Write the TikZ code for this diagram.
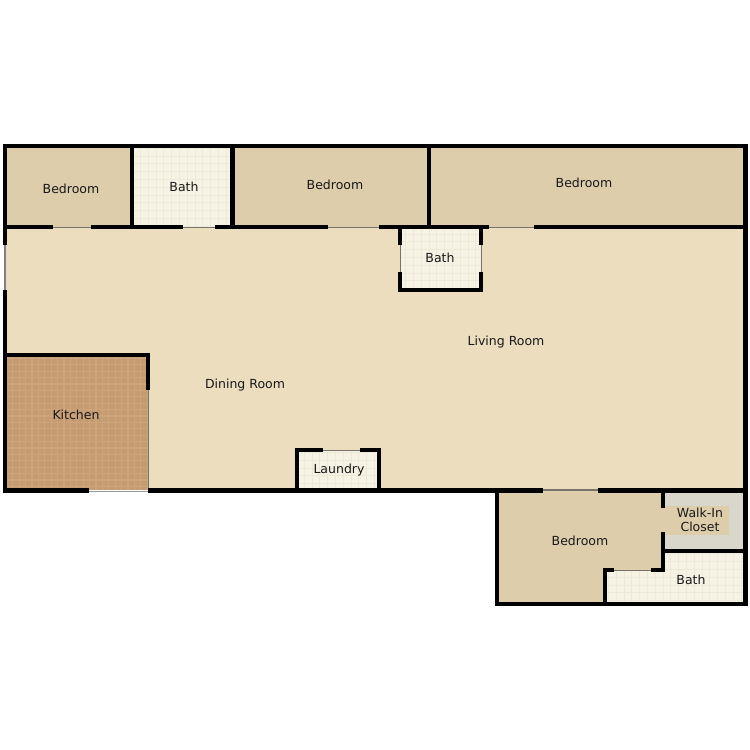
\documentclass[tikz,border=0pt]{standalone}
\usepackage{fontspec}
\setmainfont{DejaVu Sans}
\definecolor{bedfill}{HTML}{DDCDAB}
\definecolor{livefill}{HTML}{EBDDBD}
\definecolor{tilefill}{HTML}{F6F2E4}
\definecolor{tileline}{HTML}{EDE9D8}
\definecolor{kitfill}{HTML}{C59B72}
\definecolor{kitline}{HTML}{CDA47C}
\definecolor{closetfill}{HTML}{D9D6CC}
\definecolor{doorline}{HTML}{77746A}
\tikzset{
  wall/.style={line width=4.6pt,black,line cap=butt},
  thin door/.style={line width=1pt,doorline},
  label text/.style={font=\fontsize{12.5}{14}\selectfont,text=black!90,align=center,inner sep=0pt},
}
\begin{document}
\begin{tikzpicture}[x=1pt,y=-1pt]
\useasboundingbox (0,0) rectangle (750,750);
\fill[white] (0,0) rectangle (750,750);
% floors
\fill[livefill] (5,227) rectangle (745,490);
\fill[bedfill] (5,146) rectangle (745,227);
\fill[bedfill] (497,490) rectangle (663,604);
\fill[closetfill] (663,490) rectangle (745,551);
\fill[bedfill] (663,506) rectangle (729,535);
% bath 1
\fill[tilefill] (132,146) rectangle (232,227);
\begin{scope}
\clip (132,146) rectangle (232,227);
\draw[tileline,line width=.9pt] (132,146) grid[step=7.8pt] (232,227);
\end{scope}
% bath 2
\fill[tilefill] (400,227) rectangle (481,290);
\begin{scope}
\clip (400,227) rectangle (481,290);
\draw[tileline,line width=.9pt] (400,227) grid[step=7.8pt] (481,290);
\end{scope}
% laundry
\fill[tilefill] (297,450) rectangle (379,490);
\begin{scope}
\clip (297,450) rectangle (379,490);
\draw[tileline,line width=.9pt] (297,450) grid[step=7.8pt] (379,490);
\end{scope}
% bath 3
\fill[tilefill] (605,570) rectangle (745,604);
\fill[tilefill] (663,551) rectangle (745,570);
\begin{scope}
\clip (605,570) -| (663,551) -| (745,604) -| cycle;
\draw[tileline,line width=.9pt] (605,551) grid[step=7.8pt] (745,604);
\end{scope}
% kitchen
\fill[kitfill] (5,355) rectangle (148,490);
\begin{scope}
\clip (5,355) rectangle (148,490);
\draw[kitline,line width=1.2pt] (5,355) grid[step=6.4pt] (148,490);
\end{scope}
% thin door and window lines
\draw[thin door] (53,227) -- (91,227);
\draw[thin door] (183,227) -- (215,227);
\draw[thin door] (328,227) -- (379,227);
\draw[thin door] (489,227) -- (534,227);
\draw[thin door,line width=1.5pt,gray] (5,245) -- (5,290);
\draw[thin door] (400,245) -- (400,272);
\draw[thin door] (481,245) -- (481,272);
\draw[thin door] (148,390) -- (148,490);
\draw[thin door,line width=.8pt,black!40] (89,491) -- (148,491);
\draw[thin door] (323,450) -- (360,450);
\draw[thin door,line width=1.5pt] (543,490) -- (598,490);
\draw[thin door] (614,570) -- (651,570);
% walls
\draw[wall] (3,146) -- (747.5,146);
\draw[wall] (5,146) -- (5,245);
\draw[wall] (5,290) -- (5,492.5);
\draw[wall] (745.5,146) -- (745.5,606);
\draw[wall] (132,146) -- (132,227);
\draw[wall] (232.5,146) -- (232.5,227);
\draw[wall] (429,146) -- (429,227);
\draw[wall] (5,227) -- (53,227);
\draw[wall] (91,227) -- (183,227);
\draw[wall] (215,227) -- (328,227);
\draw[wall] (379,227) -- (489,227);
\draw[wall] (534,227) -- (745,227);
% central bath
\draw[wall] (400,227) -- (400,245);
\draw[wall] (481,227) -- (481,245);
\draw[wall] (400,272) -- (400,290) -- (481,290) -- (481,272);
% kitchen walls
\draw[wall] (5,355) -- (149.5,355);
\draw[wall] (148,355) -- (148,390);
\draw[wall] (3,490.5) -- (89,490.5);
\draw[wall] (148,490.5) -- (543,490.5);
\draw[wall] (598,490.5) -- (745,490.5);
% laundry walls
\draw[wall] (323,450) -- (297,450) -- (297,490);
\draw[wall] (360,450) -- (379,450) -- (379,490);
% lower suite
\draw[wall] (497,490) -- (497,606);
\draw[wall] (495,604) -- (747.5,604);
\draw[wall] (663,490) -- (663,508);
\draw[wall] (663,532) -- (663,572);
\draw[wall] (663,551) -- (745,551);
\draw[wall] (651,570) -- (665,570);
\draw[wall] (614,570) -- (605,570) -- (605,604);
% labels
\node[label text] (bed1) at (71,189) {Bedroom};
\node[label text] (bath1) at (184,187) {Bath};
\node[label text] (bed2) at (335,185) {Bedroom};
\node[label text] (bed3) at (584,183) {Bedroom};
\node[label text] (bath2) at (440,258) {Bath};
\node[label text] (living) at (506,342) {Living Room};
\node[label text] (dining) at (245,385) {Dining Room};
\node[label text] (kitchen) at (76,415) {Kitchen};
\node[label text] (laundry) at (339,470) {Laundry};
\node[label text] (bed4) at (580,541) {Bedroom};
\node[label text] (closet) at (700,520) {Walk-In\\Closet};
\node[label text] (bath3) at (691,580) {Bath};
\end{tikzpicture}
\end{document}
